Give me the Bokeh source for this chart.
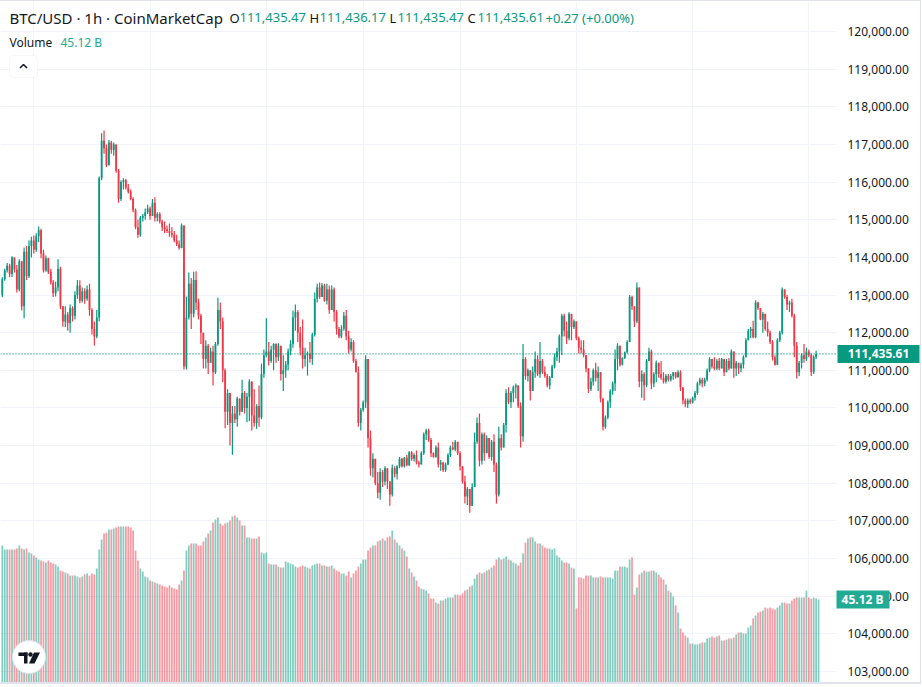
from bokeh.plotting import figure
from bokeh.models import Range1d, FixedTicker, Grid, ColumnDataSource, BoxAnnotation
from bokeh.core.properties import value
from bokeh.embed import file_html
from bokeh.resources import INLINE

UP = "#089981"
DOWN = "#F23645"
VOL_TAG = "#22ab94"
TEXT = "#131722"
GRID = "#f0f3fa"
FONT = "Noto Sans"

# ---- hourly BTC/USD bars (index 0 = oldest) ----
first_open = 113000.0
last_open = 111435.47

closes = [
    113420, 113650, 113780, 113560, 114000, 113680, 113150, 113900, 112700, 114150,
    113500, 114300, 114450, 114200, 114560, 114720, 114100, 113650, 113980, 113620,
    113330, 113050, 113200, 113700, 112700, 112300, 112480, 112250, 112650, 112450,
    113000, 113250, 112850, 113100, 112900, 113150, 112600, 112100, 111900, 112400,
    116100, 117100, 116900, 116450, 117050, 116850, 117000, 116300, 115550, 116000,
    116050, 115850, 115750, 115550, 115250, 114800, 114600, 115050, 115100, 115200,
    115300, 115100, 115450, 115050, 115150, 114950, 114800, 114750, 114700, 114650,
    114600, 114450, 114350, 114250, 114850, 111100, 112400, 113300, 112500, 113400,
    112800, 112450, 112000, 111300, 111650, 111200, 111500, 110950, 111700, 112600,
    112300, 111000, 109900, 110400, 109600, 109850, 109700, 110250, 109900, 110400,
    110000, 110300, 110700, 109800, 109600, 110050, 109750, 110900, 111400, 111500,
    111250, 111550, 111700, 111350, 111650, 110900, 111000, 111150, 111500, 111700,
    112400, 112550, 112000, 111600, 111300, 111400, 111450, 111300, 111950, 112900,
    113200, 112950, 113250, 112850, 113150, 112600, 113150, 112550, 112100, 111900,
    112100, 112450, 111900, 111550, 111750, 111250, 110950, 109600, 109950, 110150,
    111300, 109200, 108400, 108650, 108000, 107750, 108300, 108050, 108400, 108050,
    107700, 108400, 108250, 108450, 108650, 108450, 108680, 108480, 108820, 108650,
    108750, 108550, 108500, 108800, 109300, 109400, 109150, 108800, 108700, 108950,
    108500, 108550, 108350, 108500, 108750, 108950, 108900, 109100, 108800, 108450,
    108050, 107650, 107850, 107400, 107900, 109100, 109600, 108600, 109300, 108800,
    109200, 108700, 109100, 108500, 107700, 109200, 108950, 109550, 110400, 110150,
    110400, 110550, 110600, 110050, 109250, 111300, 110850, 111000, 110450, 110950,
    111300, 110900, 111250, 110950, 110850, 110600, 110800, 111100, 111350, 111500,
    111900, 112450, 112050, 111850, 112500, 112150, 112300, 111850, 111600, 111550,
    111400, 111050, 110500, 110700, 111000, 110800, 110950, 110250, 109500, 109750,
    110150, 110450, 110650, 111300, 111650, 111150, 111330, 111480, 111750, 112950,
    112700, 112300, 113200, 110700, 110900, 110600, 111250, 111500, 110650, 110900,
    111200, 110900, 110800, 110700, 110850, 110750, 110850, 110950, 110820, 110950,
    110550, 110200, 110100, 110200, 110150, 110270, 110400, 110650, 110750, 110650,
    110750, 111000, 111300, 111100, 111050, 111250, 111050, 111300, 110950, 111250,
    111050, 111500, 111050, 111200, 111050, 111150, 111350, 111800, 112050, 112100,
    111880, 112800, 112650, 112350, 112500, 112100, 112000, 111750, 111350, 111150,
    111800, 112000, 113150, 112950, 112750, 112800, 112450, 111650, 110950, 111200,
    111400, 111300, 111500, 111400, 110950, 111350, 111435.34, 111435.61,
]

highs = [
    113470, 113700, 113850, 113830, 114030, 114000, 113800, 113950, 113900, 114260,
    114300, 114450, 114550, 114580, 114640, 114820, 114760, 114200, 114050, 113990,
    113700, 113400, 113350, 113950, 113750, 112650, 112700, 112550, 112750, 112700,
    113100, 113400, 113390, 113200, 113180, 113250, 113300, 112650, 112300, 112600,
    116150, 117300, 117370, 117000, 117120, 117100, 117050, 116950, 116350, 116050,
    116100, 116080, 115950, 115800, 115600, 115300, 115000, 115100, 115150, 115300,
    115400, 115350, 115550, 115600, 115200, 115200, 115000, 114950, 114850, 114900,
    114800, 114700, 114600, 114450, 114900, 114750, 112960, 113600, 113450, 113620,
    113630, 112900, 112500, 111750, 111800, 111700, 111600, 111650, 111750, 112930,
    112800, 112400, 111050, 110500, 110200, 110050, 110050, 110300, 110150, 110750,
    110450, 110400, 110760, 110200, 110500, 110100, 110600, 111180, 111550, 112380,
    111750, 111650, 111720, 111720, 111720, 111250, 111400, 111250, 111580, 111800,
    112590, 112750, 112600, 112150, 112350, 111600, 111500, 111750, 112000, 113070,
    113300, 113330, 113320, 113300, 113300, 113250, 113250, 113200, 112600, 112150,
    112200, 112550, 112600, 112050, 111850, 111800, 111300, 111100, 110000, 110200,
    111400, 111000, 109400, 108800, 108550, 108300, 108400, 108350, 108450, 108400,
    108050, 108500, 108450, 108480, 108700, 108680, 108700, 108750, 108860, 108850,
    108800, 108870, 108600, 108850, 109350, 109450, 109450, 109200, 108820, 109000,
    109080, 108620, 108570, 108550, 108800, 109000, 109100, 109150, 109050, 108850,
    108450, 108200, 107900, 107700, 108000, 109350, 109750, 109850, 109350, 109350,
    109270, 109200, 109150, 109300, 108550, 109500, 109300, 109600, 110500, 110550,
    110450, 110600, 110650, 110450, 110150, 111700, 111350, 111050, 111000, 111100,
    111500, 111400, 111750, 111300, 111100, 110900, 110850, 111150, 111450, 111600,
    111950, 112500, 112500, 112300, 112540, 112320, 112350, 112250, 111900, 111800,
    111800, 111400, 111000, 110800, 111050, 111200, 111100, 110950, 110250, 109800,
    110200, 110500, 110700, 111550, 111720, 111350, 111350, 111500, 111800, 113000,
    112980, 112700, 113330, 113050, 111000, 110950, 111300, 111600, 111550, 110950,
    111260, 111000, 111250, 110950, 110900, 110900, 110900, 110950, 110950, 111000,
    111000, 110550, 110250, 110250, 110250, 110300, 110450, 110700, 110800, 110800,
    110800, 111050, 111350, 111300, 111350, 111300, 111330, 111330, 111250, 111300,
    111330, 111550, 111500, 111250, 111200, 111200, 111400, 111850, 112100, 112150,
    112320, 112860, 112820, 112650, 112550, 112400, 112300, 112050, 111800, 111400,
    111850, 112050, 113200, 113150, 113000, 112850, 112900, 112500, 111750, 111250,
    111450, 111700, 111600, 111550, 111450, 111400, 111520, 111436.17,
]

lows = [
    112940, 113380, 113600, 113470, 113480, 113600, 113070, 113100, 112590, 112380,
    113400, 113450, 114000, 114100, 114150, 114400, 113980, 113600, 113620, 113560,
    113280, 112950, 112960, 113100, 112620, 112160, 112150, 112050, 112000, 112300,
    112350, 112900, 112780, 112800, 112770, 112850, 112450, 111950, 111660, 111850,
    112300, 116050, 116750, 116400, 116550, 116750, 116700, 116250, 115450, 115500,
    115800, 115800, 115700, 115520, 115200, 114750, 114520, 114550, 114950, 115000,
    115150, 115000, 115100, 114950, 114950, 114900, 114700, 114650, 114650, 114550,
    114530, 114400, 114300, 114200, 114240, 111020, 111020, 112350, 112100, 112400,
    112600, 112350, 111700, 111050, 111050, 110900, 111250, 110600, 110900, 111650,
    112100, 110680, 109460, 109550, 109000, 108760, 109600, 109500, 109800, 109900,
    109850, 109620, 109650, 109400, 109500, 109450, 109500, 109700, 110800, 111350,
    111130, 111200, 111000, 111200, 111250, 110730, 110450, 110800, 111000, 111400,
    111600, 112050, 111750, 111400, 111050, 111100, 110860, 111200, 111150, 111900,
    112800, 112900, 112950, 112820, 112750, 112500, 112700, 112300, 111950, 111850,
    111850, 112050, 111800, 111450, 111500, 111200, 110950, 109500, 109400, 109900,
    110000, 108950, 108200, 108150, 107950, 107600, 107560, 107900, 107950, 107850,
    107400, 107650, 108150, 108100, 108400, 108420, 108420, 108450, 108460, 108600,
    108580, 108500, 108420, 108500, 108750, 109150, 109100, 108700, 108680, 108680,
    108420, 108330, 108300, 108300, 108480, 108700, 108880, 108850, 108750, 108340,
    107990, 107460, 107420, 107220, 107400, 107900, 109050, 108450, 108500, 108600,
    108800, 108650, 108600, 108300, 107460, 107650, 108870, 108950, 109350, 110100,
    110000, 110150, 110250, 110000, 108950, 109100, 110750, 110700, 110200, 110450,
    110800, 110850, 110800, 110900, 110800, 110550, 110500, 110800, 111050, 111250,
    111200, 111400, 111900, 111700, 111800, 111800, 112100, 111800, 111450, 111450,
    111350, 110950, 110400, 110450, 110600, 110700, 110450, 110150, 109400, 109450,
    109700, 110000, 110350, 110450, 111000, 111100, 111130, 111300, 111450, 111750,
    112600, 112150, 112250, 110550, 110270, 110200, 110550, 111250, 110500, 110550,
    110680, 110800, 110750, 110650, 110650, 110700, 110700, 110750, 110780, 110800,
    110450, 110100, 110020, 110000, 110100, 110120, 110200, 110350, 110600, 110550,
    110580, 110700, 110950, 111050, 111000, 111000, 111000, 111100, 110850, 110950,
    111000, 111050, 110800, 110850, 110900, 110950, 111050, 111350, 111800, 111850,
    111850, 111850, 112600, 112330, 112000, 112050, 111900, 111700, 111260, 111130,
    111150, 111750, 111950, 112900, 112600, 112550, 112400, 111350, 110780, 110850,
    111050, 111200, 111250, 111350, 110850, 110900, 111300, 111435.47,
]

# 24h volume, billions USD
volumes_b = [
    73.5, 71.4, 71.4, 71.4, 71.4, 71.4, 71.9, 73.5, 71.9, 71.4,
    71.9, 69.8, 69.3, 68.2, 67.2, 66.1, 65.6, 65.1, 64.5, 65.6,
    64.5, 64.0, 63.5, 62.4, 60.3, 59.8, 59.3, 58.8, 57.7, 57.7,
    57.7, 57.2, 56.7, 57.2, 58.2, 58.8, 57.7, 58.8, 58.2, 61.4,
    71.4, 76.6, 79.8, 80.3, 81.9, 81.9, 82.4, 82.9, 83.4, 83.4,
    83.4, 83.4, 83.4, 82.9, 81.3, 70.8, 65.6, 61.4, 59.8, 57.2,
    56.7, 55.1, 54.6, 54.0, 53.5, 53.0, 52.5, 51.9, 51.4, 52.5,
    51.4, 50.9, 50.4, 53.0, 55.1, 60.3, 70.8, 73.5, 74.5, 74.5,
    74.5, 73.5, 73.5, 75.6, 77.7, 79.8, 81.3, 85.5, 87.1, 88.1,
    85.0, 84.0, 85.0, 85.5, 86.6, 88.7, 89.2, 88.1, 86.6, 84.0,
    84.0, 77.7, 77.7, 77.1, 77.1, 77.1, 78.2, 69.8, 69.3, 69.8,
    64.0, 63.5, 63.5, 63.5, 62.4, 61.9, 61.9, 65.1, 64.5, 64.0,
    63.5, 62.4, 61.9, 62.4, 63.0, 62.4, 61.9, 61.4, 63.0, 63.5,
    64.0, 64.0, 63.0, 63.0, 62.4, 62.4, 63.0, 61.4, 60.3, 59.8,
    58.8, 58.8, 57.7, 59.8, 56.7, 58.8, 60.3, 62.4, 64.0, 66.1,
    66.1, 70.8, 72.4, 73.5, 73.5, 75.6, 76.1, 77.1, 76.1, 77.7,
    78.2, 81.3, 76.6, 75.0, 73.5, 71.9, 70.8, 67.7, 61.4, 59.3,
    57.2, 55.1, 51.9, 50.9, 50.4, 49.8, 48.3, 45.6, 45.6, 43.5,
    43.0, 44.6, 44.6, 45.6, 46.2, 46.2, 46.2, 47.7, 47.7, 47.2,
    48.3, 49.8, 50.4, 51.9, 52.5, 56.1, 58.2, 59.3, 58.8, 59.3,
    60.3, 60.9, 61.9, 63.0, 66.1, 67.2, 66.1, 66.6, 67.7, 66.1,
    65.6, 64.5, 64.0, 63.0, 64.5, 69.3, 75.0, 77.1, 77.7, 77.7,
    75.6, 74.5, 74.5, 73.5, 72.4, 71.9, 71.9, 71.4, 71.9, 68.2,
    67.2, 65.6, 64.5, 64.5, 64.0, 61.9, 61.4, 40.4, 56.7, 56.7,
    56.1, 57.7, 57.7, 57.7, 56.7, 56.7, 56.7, 57.2, 56.7, 56.7,
    56.7, 56.7, 56.1, 60.3, 60.3, 62.4, 62.4, 62.4, 61.9, 66.1,
    67.2, 47.7, 51.4, 58.2, 59.3, 60.3, 59.8, 59.8, 60.3, 60.3,
    59.3, 58.2, 56.7, 55.6, 53.0, 49.8, 48.8, 46.7, 42.0, 38.3,
    29.9, 27.8, 26.2, 25.2, 22.0, 22.0, 21.5, 21.5, 22.0, 22.6,
    22.6, 24.7, 25.2, 25.7, 25.2, 25.7, 26.2, 23.6, 23.6, 24.1,
    24.7, 24.7, 25.2, 26.8, 27.8, 27.8, 27.3, 27.3, 30.4, 31.5,
    35.2, 36.7, 38.3, 38.8, 39.4, 40.9, 40.4, 40.9, 40.4, 39.9,
    40.9, 42.0, 43.5, 43.5, 43.0, 43.0, 44.6, 45.6, 46.2, 46.2,
    46.2, 46.2, 49.8, 46.2, 45.6, 46.2, 45.6, 45.12,
]

price_ticks = list(range(103000, 120001, 1000))
# bar indices where the (hidden) time scale puts its day marks
time_ticks = [13, 61, 109, 149, 189, 237, 285, 333]

opens = [first_open] + closes[:-1]
opens[-1] = last_open
n = len(closes)
up = [c >= o for o, c in zip(opens, closes)]
src = ColumnDataSource(dict(
    x=list(range(n)),
    top=[max(o, c) for o, c in zip(opens, closes)],
    bottom=[min(o, c) for o, c in zip(opens, closes)],
    high=[max(h, o, c) for h, o, c in zip(highs, opens, closes)],
    low=[min(l, o, c) for l, o, c in zip(lows, opens, closes)],
    color=[UP if u else DOWN for u in up],
    vol=volumes_b,
))

# canvas geometry: chart pane 0..836 px, price scale 836..921 px
CANVAS_W = 921
PANE_W = 836
PITCH = 2.422
X0 = 1.82
p = figure(width=CANVAS_W, height=684, output_backend="svg", toolbar_location=None,
           x_range=Range1d(-X0 / PITCH, (CANVAS_W - X0) / PITCH),
           y_range=Range1d(102628, 120797),
           x_axis_location=None, y_axis_location=None,
           min_border_left=0, min_border_right=0, min_border_top=0, min_border_bottom=0,
           outline_line_color=None, background_fill_color="white", border_fill_color="white")
p.styles = {"border-top": "1px solid #e0e3eb", "border-right": "1px solid #e0e3eb",
            "border-bottom": "2px solid #e0e3eb"}
for g in list(p.grid):
    g.visible = False
p.extra_x_ranges = {"px": Range1d(0, CANVAS_W)}
p.extra_y_ranges = {"py": Range1d(685, 1), "vol": Range1d(0, 358.9)}

p.add_layout(Grid(dimension=1, ticker=FixedTicker(ticks=price_ticks), grid_line_color=GRID))
p.add_layout(Grid(dimension=0, ticker=FixedTicker(ticks=time_ticks), grid_line_color=GRID))

# volume histogram (overlay scale)
p.vbar(x="x", top="vol", bottom=0, width=0.72, source=src, y_range_name="vol",
       fill_color="color", fill_alpha=0.5, line_color=None)

# candles
p.segment(x0="x", y0="high", x1="x", y1="low", source=src, line_color="color", line_width=1.2)
p.vbar(x="x", top="top", bottom="bottom", width=0.75, source=src,
       fill_color="color", line_color=None)

last_close = closes[-1]
prev_close = closes[-2]
last_volume = volumes_b[-1]

# dotted last-price line across the pane
p.segment(x0=[0], x1=[PANE_W], y0=[last_close], y1=[last_close], x_range_name="px",
          line_color=UP, line_dash="1 2", line_width=1.4)

# legend header
def txt(x, y, s, color=TEXT, size="13px", y_range="py", align="left", style="normal"):
    p.text(x=[x], y=[y], text=[s], x_range_name="px", y_range_name=y_range,
           text_font=value(FONT), text_font_size=size, text_color=color,
           text_baseline="middle", text_align=align, text_font_style=style)

txt(9, 17, "BTC/USD · 1h · CoinMarketCap", size="15px")
txt(229, 17, "O")
txt(239, 17, f"{opens[-1]:,.2f}", UP)
txt(309, 17, "H")
txt(319, 17, f"{highs[-1]:,.2f}", UP)
txt(389, 17, "L")
txt(397, 17, f"{lows[-1]:,.2f}", UP)
txt(467, 17, "C")
txt(477, 17, f"{last_close:,.2f}", UP)
chg = last_close - prev_close
txt(545, 17, f"{chg:+.2f} ({chg / prev_close * 100:+.2f}%)", UP)
txt(9, 42, "Volume", size="12px")
txt(60, 42, f"{last_volume:.2f} B", VOL_TAG, size="12px")

# collapse button
p.add_layout(BoxAnnotation(left=9, right=37, top=55, bottom=77, x_range_name="px", y_range_name="py",
                           fill_color="white", fill_alpha=1, line_color="#e0e3eb", line_width=1,
                           border_radius=4, level="underlay"))
p.line(x=[19.5, 23, 26.5], y=[67.5, 64, 67.5], x_range_name="px", y_range_name="py",
       line_color=TEXT, line_width=1.5)

# logo badge
p.scatter(x=[28.5], y=[656.5], size=33, marker="circle", x_range_name="px", y_range_name="py",
          fill_color="white", line_color="#e0e3eb", line_width=1)
p.quad(left=[18], right=[27], top=[652], bottom=[655.5], x_range_name="px", y_range_name="py",
       fill_color=TEXT, line_color=None)
p.quad(left=[23.5], right=[27], top=[652], bottom=[663], x_range_name="px", y_range_name="py",
       fill_color=TEXT, line_color=None)
p.scatter(x=[30], y=[654], size=4.5, marker="circle", x_range_name="px", y_range_name="py",
          fill_color=TEXT, line_color=None)
p.patch(x=[33.5, 39.5, 34, 28.5], y=[652, 652, 663, 663], x_range_name="px", y_range_name="py",
        fill_color=TEXT, line_color=None)

# ---- price scale on the right ----
p.quad(left=[PANE_W], right=[CANVAS_W], top=[1], bottom=[685], x_range_name="px", y_range_name="py",
       fill_color="white", line_color=None)
p.text(x=[847] * len(price_ticks), y=price_ticks, text=[f"{t:,.2f}" for t in price_ticks],
       x_range_name="px", text_font=value(FONT), text_font_size="12px", text_color=TEXT,
       text_baseline="middle", text_align="left")

# tags for the last close and the last volume
USD_PER_PX = 17000 / 640
B_PER_PX = 358.9 / 684
p.quad(left=[837], right=[919], top=[last_close + 9 * USD_PER_PX], bottom=[last_close - 9 * USD_PER_PX],
       x_range_name="px", fill_color=UP, line_color=None)
txt(878, last_close, f"{last_close:,.2f}", "white", "12px", "default", "center", "bold")
p.quad(left=[836], right=[889], top=[last_volume + 9 * B_PER_PX], bottom=[last_volume - 9 * B_PER_PX],
       x_range_name="px", y_range_name="vol", fill_color=VOL_TAG, line_color=None)
txt(862, last_volume, f"{last_volume:.2f} B", "white", "12px", "vol", "center", "bold")

open("out.html", "w").write(file_html(p, INLINE))
